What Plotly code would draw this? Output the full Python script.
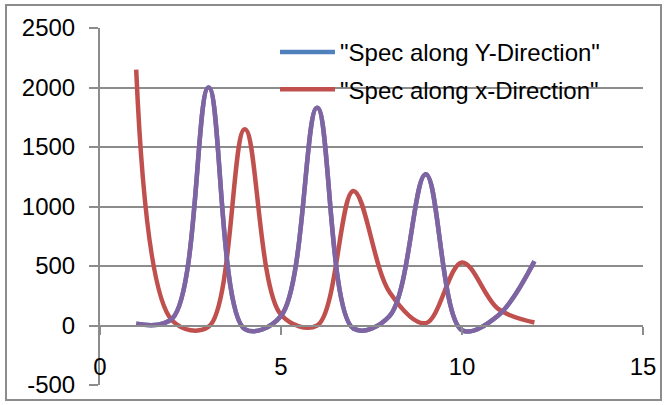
import plotly.graph_objects as go

# Sample index along each scan direction
positions = [1, 2, 3, 4, 5, 6, 7, 8, 9, 10, 11, 12]

# Spectrum values
spec_y = [15, 60, 2000, -30, 80, 1830, -25, 80, 1270, -40, 85, 540]
spec_x = [2150, 40, -10, 1650, 90, 0, 1130, 280, 20, 530, 140, 25]

name_y = '"Spec along Y-Direction"'
name_x = '"Spec along x-Direction"'

x_ticks = [0, 5, 10, 15]
y_ticks = [-500, 0, 500, 1000, 1500, 2000, 2500]

BLUE = "#4F81BD"
RED = "#C0504D"
PURPLE = "#8064A2"
GRID = "#8C8C8C"
FONT = "Liberation Sans, Arial, sans-serif"
SMOOTH = 1.0

W, H = 667, 405
ML, MR, MT, MB = 100, 24, 28, 20

fig = go.Figure()

fig.add_trace(go.Scatter(
    x=positions, y=spec_y, name=name_y, mode="lines",
    line=dict(color=BLUE, width=4.5, shape="spline", smoothing=SMOOTH),
    legendgroup="a",
))
fig.add_trace(go.Scatter(
    x=positions, y=spec_x, name=name_x, mode="lines",
    line=dict(color=RED, width=4.5, shape="spline", smoothing=SMOOTH),
    legendgroup="b",
))
# Third series drawn over the Y-direction spectrum
fig.add_trace(go.Scatter(
    x=positions, y=spec_y, mode="lines", showlegend=False,
    line=dict(color=PURPLE, width=4.5, shape="spline", smoothing=SMOOTH),
    hoverinfo="skip",
))

# Zero-crossing axis carrying the tick marks
zero_pos = (0 - y_ticks[0]) / (y_ticks[-1] - y_ticks[0])

# Outer chart border in pixel space converted to paper units
pw, ph = W - ML - MR, H - MT - MB
def px_to_paper_x(px):
    return (px - ML) / pw
def px_to_paper_y(py):
    return (H - MB - py) / ph

fig.add_shape(
    type="rect", xref="paper", yref="paper",
    x0=px_to_paper_x(6), x1=px_to_paper_x(661),
    y0=px_to_paper_y(400), y1=px_to_paper_y(5),
    line=dict(color=GRID, width=2), fillcolor="rgba(0,0,0,0)", layer="below",
)

fig.update_layout(
    width=W, height=H,
    margin=dict(l=ML, r=MR, t=MT, b=MB, pad=0, autoexpand=False),
    paper_bgcolor="white", plot_bgcolor="white",
    font=dict(family=FONT, size=24, color="black"),
    showlegend=True,
    legend=dict(
        x=px_to_paper_x(275), y=px_to_paper_y(30), xanchor="left", yanchor="top",
        bgcolor="rgba(0,0,0,0)", borderwidth=0,
        font=dict(family=FONT, size=24, color="black"),
        traceorder="grouped", tracegroupgap=3, itemwidth=55,
    ),
    xaxis=dict(
        range=[0, 15], tickvals=x_ticks, ticktext=[str(v) for v in x_ticks],
        showgrid=False, zeroline=False, automargin=False,
        showline=True, linecolor=GRID, linewidth=2,
        ticks="outside", ticklen=8, tickwidth=2, tickcolor=GRID,
        anchor="free", position=zero_pos,
        ticklabelstandoff=12,
        tickfont=dict(family=FONT, size=24, color="black"),
    ),
    yaxis=dict(
        range=[-500, 2500], tickvals=y_ticks, ticktext=[str(v) for v in y_ticks],
        showgrid=True, gridcolor=GRID, gridwidth=2, zeroline=False, automargin=False,
        showline=True, linecolor=GRID, linewidth=2,
        ticks="outside", ticklen=9, tickwidth=2, tickcolor=GRID,
        ticklabelstandoff=9,
        tickfont=dict(family=FONT, size=24, color="black"),
    ),
)

fig.write_html("out.html")
